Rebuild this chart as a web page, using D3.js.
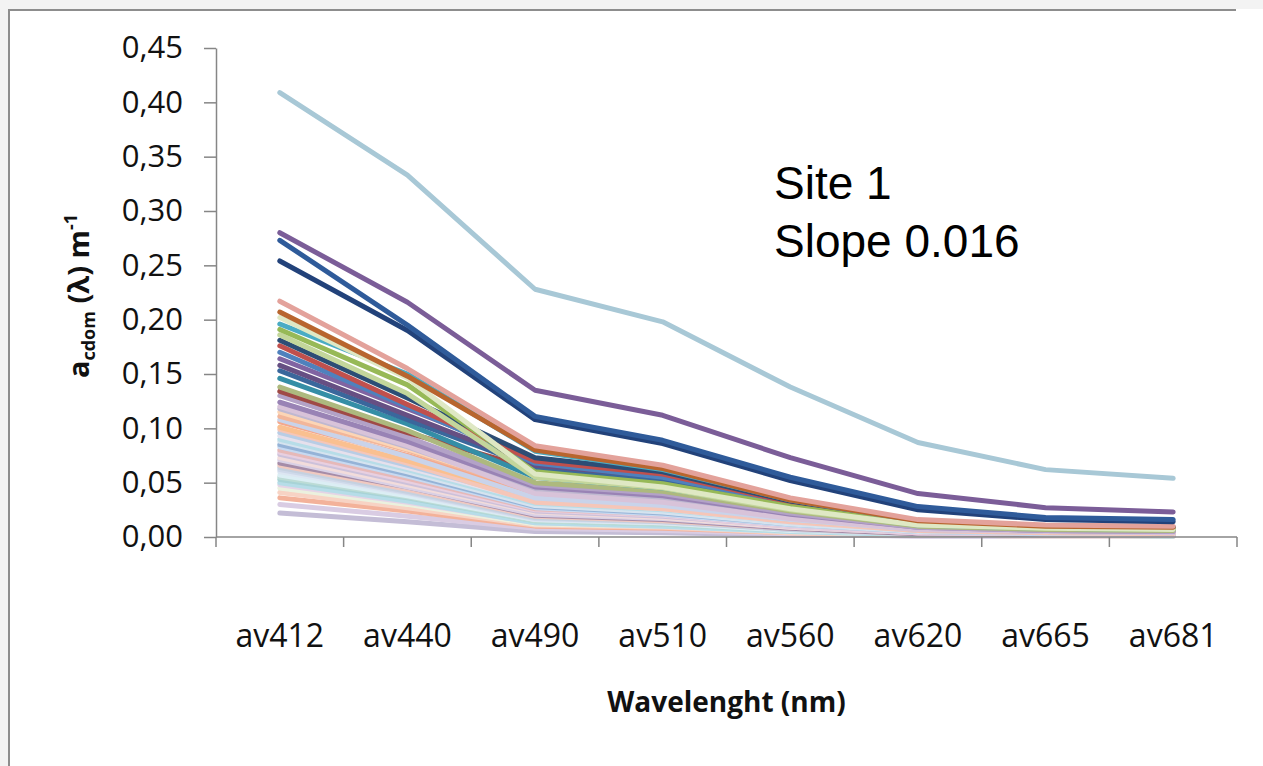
<!DOCTYPE html>
<html>
<head>
<meta charset="utf-8">
<script src="https://cdn.jsdelivr.net/npm/d3@7"></script>
<style>
  html, body { margin: 0; padding: 0; background: #ffffff; }
  svg { display: block; }
</style>
</head>
<body>
<svg id="chart" width="1263" height="766"></svg>
<script>
// Wavelength bands (x categories)
const categories = ["av412", "av440", "av490", "av510", "av560", "av620", "av665", "av681"];

// y-axis tick values
const yTicks = [0, 0.05, 0.10, 0.15, 0.20, 0.25, 0.30, 0.35, 0.40, 0.45];

// a_cdom spectra, one array per sample (values in m^-1, ordered as categories)
const seriesValues = [
  [0.409, 0.333, 0.228, 0.198, 0.138, 0.087, 0.062, 0.054],
  [0.280, 0.216, 0.135, 0.112, 0.073, 0.040, 0.027, 0.023],
  [0.273, 0.195, 0.111, 0.089, 0.055, 0.028, 0.018, 0.016],
  [0.254, 0.190, 0.108, 0.086, 0.052, 0.025, 0.016, 0.014],
  [0.217, 0.155, 0.084, 0.066, 0.036, 0.016, 0.011, 0.010],
  [0.207, 0.148, 0.080, 0.063, 0.034, 0.015, 0.010, 0.009],
  [0.202, 0.146, 0.058, 0.046, 0.026, 0.011, 0.008, 0.007],
  [0.196, 0.150, 0.079, 0.062, 0.034, 0.015, 0.010, 0.009],
  [0.191, 0.140, 0.060, 0.049, 0.028, 0.012, 0.008, 0.007],
  [0.186, 0.132, 0.055, 0.045, 0.025, 0.011, 0.008, 0.007],
  [0.181, 0.128, 0.073, 0.060, 0.033, 0.015, 0.010, 0.009],
  [0.176, 0.122, 0.070, 0.058, 0.032, 0.014, 0.010, 0.009],
  [0.170, 0.120, 0.068, 0.055, 0.031, 0.014, 0.009, 0.008],
  [0.164, 0.118, 0.072, 0.059, 0.034, 0.015, 0.010, 0.009],
  [0.158, 0.112, 0.066, 0.056, 0.031, 0.013, 0.009, 0.008],
  [0.153, 0.108, 0.064, 0.053, 0.030, 0.013, 0.009, 0.008],
  [0.146, 0.104, 0.055, 0.045, 0.026, 0.011, 0.008, 0.007],
  [0.138, 0.098, 0.050, 0.042, 0.024, 0.010, 0.007, 0.006],
  [0.134, 0.096, 0.062, 0.052, 0.029, 0.012, 0.008, 0.007],
  [0.130, 0.092, 0.048, 0.040, 0.022, 0.009, 0.006, 0.005],
  [0.124, 0.088, 0.046, 0.038, 0.021, 0.009, 0.006, 0.005],
  [0.120, 0.084, 0.040, 0.032, 0.017, 0.007, 0.005, 0.004],
  [0.118, 0.083, 0.043, 0.035, 0.019, 0.008, 0.005, 0.005],
  [0.115, 0.081, 0.044, 0.036, 0.020, 0.008, 0.006, 0.005],
  [0.111, 0.080, 0.042, 0.035, 0.020, 0.008, 0.006, 0.005],
  [0.108, 0.074, 0.036, 0.029, 0.016, 0.007, 0.005, 0.004],
  [0.106, 0.075, 0.040, 0.032, 0.018, 0.007, 0.005, 0.004],
  [0.101, 0.070, 0.037, 0.030, 0.016, 0.007, 0.005, 0.004],
  [0.099, 0.068, 0.032, 0.026, 0.014, 0.006, 0.004, 0.003],
  [0.096, 0.066, 0.034, 0.027, 0.015, 0.006, 0.004, 0.004],
  [0.093, 0.064, 0.033, 0.026, 0.014, 0.006, 0.004, 0.003],
  [0.090, 0.062, 0.031, 0.025, 0.014, 0.006, 0.004, 0.003],
  [0.088, 0.060, 0.029, 0.023, 0.012, 0.005, 0.004, 0.003],
  [0.085, 0.058, 0.028, 0.022, 0.012, 0.005, 0.004, 0.003],
  [0.083, 0.056, 0.027, 0.021, 0.011, 0.005, 0.003, 0.003],
  [0.080, 0.054, 0.026, 0.021, 0.011, 0.005, 0.003, 0.003],
  [0.078, 0.052, 0.025, 0.020, 0.010, 0.004, 0.003, 0.002],
  [0.076, 0.050, 0.024, 0.019, 0.010, 0.004, 0.003, 0.003],
  [0.073, 0.048, 0.023, 0.018, 0.009, 0.004, 0.003, 0.002],
  [0.071, 0.046, 0.021, 0.017, 0.009, 0.004, 0.003, 0.002],
  [0.068, 0.046, 0.020, 0.016, 0.008, 0.003, 0.002, 0.002],
  [0.066, 0.044, 0.019, 0.015, 0.008, 0.003, 0.002, 0.002],
  [0.064, 0.042, 0.018, 0.014, 0.007, 0.003, 0.002, 0.002],
  [0.062, 0.041, 0.017, 0.014, 0.007, 0.003, 0.002, 0.002],
  [0.060, 0.040, 0.016, 0.013, 0.007, 0.003, 0.002, 0.002],
  [0.057, 0.038, 0.016, 0.013, 0.006, 0.003, 0.002, 0.002],
  [0.055, 0.037, 0.015, 0.012, 0.006, 0.003, 0.002, 0.001],
  [0.053, 0.036, 0.015, 0.012, 0.006, 0.003, 0.002, 0.002],
  [0.050, 0.033, 0.013, 0.010, 0.005, 0.002, 0.002, 0.001],
  [0.048, 0.032, 0.013, 0.010, 0.005, 0.002, 0.001, 0.001],
  [0.045, 0.030, 0.012, 0.010, 0.005, 0.002, 0.001, 0.001],
  [0.041, 0.027, 0.011, 0.009, 0.004, 0.002, 0.001, 0.001],
  [0.036, 0.024, 0.010, 0.008, 0.004, 0.002, 0.001, 0.001],
  [0.030, 0.019, 0.008, 0.006, 0.003, 0.001, 0.001, 0.001],
  [0.022, 0.014, 0.005, 0.004, 0.002, 0.001, 0.001, 0.001]
];

// line colour for each sample, same order as seriesValues
const seriesColors = [
  "#a8c8d6", "#7b5d98", "#2f5b9a", "#22427a",
  "#e3a29b", "#b8652e", "#dfe8c4", "#4aacc4",
  "#97b957", "#c3d69b", "#2c4d75", "#c0504d",
  "#4f81bd", "#8064a2", "#664f83", "#3a679c",
  "#358ea6", "#adb97e", "#9f4a46", "#b3a2c7",
  "#9983b5", "#d8c3d9", "#bfb8d0", "#fcd5b5",
  "#f2b69a", "#c9d3ea", "#f4a88c", "#fac090",
  "#f5c6b8", "#b9cde5", "#e6e0ec", "#b7dde8",
  "#d5e3ef", "#95b3d7", "#c6d9f1", "#e6b9b8",
  "#e8cfe0", "#ccc1da", "#f2dcdb", "#d9d0e5",
  "#a58ca8", "#f0c9c0", "#c5d1e0", "#cfd9ea",
  "#dce6f2", "#dbeef4", "#bcdcd6", "#a8d3d6",
  "#b6dde8", "#e4d4e6", "#ebf1de", "#f7d3c4",
  "#f3b29a", "#d9cce3", "#c4bdd6"
];

const svg = d3.select("#chart");

// outer chart frame
svg.append("rect").attr("x", 0).attr("y", 0).attr("width", 1263).attr("height", 9).attr("fill", "#f3f3f3");
svg.append("rect").attr("x", 0).attr("y", 0).attr("width", 8).attr("height", 766).attr("fill", "#f3f3f3");
svg.append("path")
  .attr("d", "M9,766 L9,10 L1236,10")
  .attr("fill", "none").attr("stroke", "#8d8d8d").attr("stroke-width", 2);

const plot = { left: 216, right: 1237, top: 48, bottom: 537 };

const x = d3.scaleBand().domain(categories).range([plot.left, plot.right]).padding(0);
const y = d3.scaleLinear().domain([0, 0.45]).range([plot.bottom, plot.top]);
const xc = c => x(c) + x.bandwidth() / 2;

const fmt = v => d3.format(".2f")(v).replace(".", ",");

// y axis
const gy = svg.append("g")
  .attr("transform", `translate(${plot.left},0)`)
  .call(d3.axisLeft(y).tickValues(yTicks).tickFormat(fmt).tickSize(12).tickSizeOuter(0).tickPadding(21));
gy.select(".domain").attr("stroke", "#868686").attr("stroke-width", 1.5);
gy.selectAll(".tick line").attr("stroke", "#868686").attr("stroke-width", 1.5);
gy.selectAll(".tick text")
  .attr("fill", "#111")
  .style("font-family", "'Open Sans', sans-serif")
  .style("font-size", "31px");

// spectra lines
const line = d3.line()
  .x((d, i) => xc(categories[i]))
  .y(d => y(d));

const drawOrder = d3.range(seriesValues.length).reverse();
svg.append("g")
  .selectAll("path")
  .data(drawOrder)
  .join("path")
  .attr("d", i => line(seriesValues[i]))
  .attr("fill", "none")
  .attr("stroke", i => seriesColors[i])
  .attr("stroke-width", 5)
  .attr("stroke-linejoin", "round")
  .attr("stroke-linecap", "round");

// x axis: baseline, category-boundary ticks, labels
const gx = svg.append("g").attr("transform", `translate(0,${plot.bottom})`);
gx.append("line")
  .attr("x1", plot.left).attr("x2", plot.right)
  .attr("stroke", "#868686").attr("stroke-width", 1.5);
const bounds = categories.map(c => x(c)).concat([x(categories[categories.length - 1]) + x.bandwidth()]);
gx.selectAll("line.tk")
  .data(bounds)
  .join("line")
  .attr("class", "tk")
  .attr("x1", d => d).attr("x2", d => d)
  .attr("y1", 0).attr("y2", 10)
  .attr("stroke", "#868686").attr("stroke-width", 1.5);
gx.selectAll("text")
  .data(categories)
  .join("text")
  .attr("x", d => xc(d))
  .attr("y", 110)
  .attr("text-anchor", "middle")
  .attr("fill", "#111")
  .style("font-family", "'Open Sans', sans-serif")
  .style("font-size", "32px")
  .text(d => d);

// axis titles
svg.append("text")
  .attr("x", (plot.left + plot.right) / 2)
  .attr("y", 712)
  .attr("text-anchor", "middle")
  .attr("fill", "#111")
  .style("font-family", "'Open Sans', sans-serif")
  .style("font-weight", "bold")
  .style("font-size", "28px")
  .text("Wavelenght (nm)");

const yt = svg.append("text")
  .attr("transform", "translate(89,296) rotate(-90)")
  .attr("text-anchor", "middle")
  .attr("fill", "#111")
  .style("font-family", "'Open Sans', sans-serif")
  .style("font-weight", "bold")
  .style("font-size", "29px");
yt.append("tspan").text("a");
yt.append("tspan").attr("dy", 6).style("font-size", "18px").text("cdom");
yt.append("tspan").attr("dy", -6).text(" (λ) m");
yt.append("tspan").attr("dy", -12).style("font-size", "18px").text("-1");

// annotation
const note = svg.append("text")
  .attr("fill", "#000")
  .style("font-family", "'Liberation Sans', Arial, sans-serif")
  .style("font-size", "46px");
note.append("tspan").attr("x", 774).attr("y", 199).text("Site 1");
note.append("tspan").attr("x", 774).attr("y", 257).text("Slope 0.016");
</script>
</body>
</html>
